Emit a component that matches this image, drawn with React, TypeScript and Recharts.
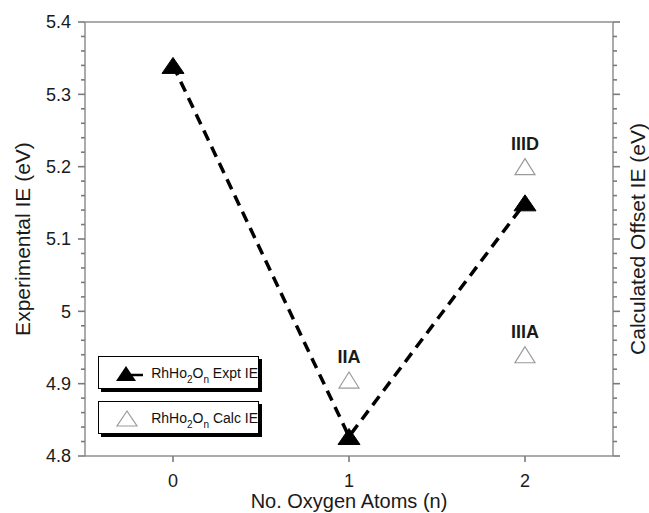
import React from 'react';
import {
  ComposedChart,
  Line,
  Scatter,
  XAxis,
  YAxis,
  Legend,
  ReferenceLine,
} from 'recharts';

// ---- data ----
const exptN = [0, 1, 2];
const exptIE = [5.34, 4.827, 5.15];

const calcN = [1, 2, 2];
const calcIE = [4.905, 5.2, 4.94];
const calcNames = ['IIA', 'IIID', 'IIIA'];

const xTicks = [0, 1, 2];
const yMajorTicks = [4.8, 4.9, 5.0, 5.1, 5.2, 5.3, 5.4];
const yMinorPerMajor = 5;

const exptData = exptN.map((n, i) => ({ n, ie: exptIE[i] }));
const calcData = calcN.map((n, i) => ({ n, ie: calcIE[i], name: calcNames[i] }));

const yAllTicks: number[] = [];
yMajorTicks.forEach((t, i) => {
  if (i < yMajorTicks.length - 1) {
    const step = (yMajorTicks[i + 1] - t) / yMinorPerMajor;
    for (let k = 0; k < yMinorPerMajor; k++) {
      yAllTicks.push(Math.round((t + k * step) * 1000) / 1000);
    }
  } else {
    yAllTicks.push(t);
  }
});

const isMajor = (v: number) => yMajorTicks.some((m) => Math.abs(m - v) < 1e-6);
const fmt = (v: number) => String(Number(v.toFixed(1)));

const AXIS = '#8f8f8f';
const TICK = '#7a7a7a';
const FONT = '"Liberation Sans", Arial, Helvetica, sans-serif';

const LeftTick = (props: any) => {
  const { x, y, payload } = props;
  const v = payload.value as number;
  const major = isMajor(v);
  return (
    <g>
      <path d={`M${x - (major ? 7 : 4)},${y}H${x}`} stroke={TICK} strokeWidth={1.6} fill="none" />
      {major && (
        <text x={x - 14} y={y} dy="0.36em" textAnchor="end" fontSize={18} fill="#1a1a1a" fontFamily={FONT}>
          {fmt(v)}
        </text>
      )}
    </g>
  );
};

const RightTick = (props: any) => {
  const { x, y, payload } = props;
  const v = payload.value as number;
  const major = isMajor(v);
  return (
    <g>
      <path d={`M${x},${y}H${x + (major ? 7 : 4)}`} stroke={TICK} strokeWidth={1.6} fill="none" />
    </g>
  );
};

const FilledTri = (props: any) => {
  const { cx, cy, index } = props;
  if (cx == null || cy == null) return <g key={`ft-${index}`} />;
  const w = 22;
  const h = 16;
  return (
    <polygon
      key={`ft-${index}`}
      points={`${cx},${cy - h / 2} ${cx + w / 2},${cy + h / 2} ${cx - w / 2},${cy + h / 2}`}
      fill="#000"
      stroke="#000"
      strokeWidth={1}
    />
  );
};

const OpenTriLabeled = (props: any) => {
  const { cx, cy, payload } = props;
  const w = 20;
  const h = 16;
  return (
    <g>
      <polygon
        points={`${cx},${cy - h / 2} ${cx + w / 2},${cy + h / 2} ${cx - w / 2},${cy + h / 2}`}
        fill="#fff"
        stroke="#9a9a9a"
        strokeWidth={1.2}
      />
      <text
        x={cx}
        y={cy - 17}
        textAnchor="middle"
        fontSize={18}
        fontWeight="bold"
        fill="#1a1a1a"
        fontFamily={FONT}
      >
        {payload.name}
      </text>
    </g>
  );
};

const Formula = ({ tail }: { tail: string }) => (
  <span style={{ fontSize: 14, whiteSpace: 'nowrap', color: '#111' }}>
    RhHo
    <sub style={{ fontSize: 10, verticalAlign: 'baseline', position: 'relative', top: 5 }}>2</sub>O
    <sub style={{ fontSize: 10, verticalAlign: 'baseline', position: 'relative', top: 5 }}>n</sub> {tail}
  </span>
);

const boxStyle: React.CSSProperties = {
  width: 159,
  height: 31,
  border: '1.5px solid #000',
  boxShadow: '3px 3px 0 #000',
  background: '#fff',
  display: 'flex',
  alignItems: 'center',
  boxSizing: 'content-box',
  fontFamily: FONT,
};

const renderLegend = () => (
  <div>
    <div style={boxStyle}>
      <svg width={50} height={20} style={{ marginLeft: 6 }}>
        <line x1={20} x2={38} y1={12} y2={12} stroke="#000" strokeWidth={2.5} />
        <polygon points="21,3 31,18 11,18" fill="#000" />
      </svg>
      <Formula tail="Expt IE" />
    </div>
    <div style={{ ...boxStyle, marginTop: 12 }}>
      <svg width={50} height={20} style={{ marginLeft: 6 }}>
        <polygon points="22,3 32,18 12,18" fill="#fff" stroke="#9a9a9a" strokeWidth={1.2} />
      </svg>
      <Formula tail="Calc IE" />
    </div>
  </div>
);

export default function App() {
  return (
    <div style={{ position: 'absolute', left: 0, top: 0, fontFamily: FONT }}>
      <ComposedChart
        width={649}
        height={513}
        margin={{ top: 22, right: 0, bottom: 0, left: 0 }}
        style={{ fontFamily: FONT }}
      >
        <XAxis
          dataKey="n"
          type="number"
          domain={[-0.5, 2.5]}
          ticks={xTicks}
          allowDuplicatedCategory={false}
          height={57}
          axisLine={{ stroke: AXIS, strokeWidth: 1.5 }}
          tickLine={{ stroke: TICK, strokeWidth: 1.6 }}
          tickSize={6}
          tickMargin={12}
          tick={{ fontSize: 18, fill: '#1a1a1a' }}
          label={{
            value: 'No. Oxygen Atoms (n)',
            position: 'insideBottom',
            offset: 5,
            fontSize: 20,
            fill: '#1a1a1a',
          }}
        />
        <YAxis
          yAxisId="left"
          type="number"
          domain={[4.8, 5.4]}
          ticks={yAllTicks}
          interval={0}
          width={85}
          axisLine={{ stroke: AXIS, strokeWidth: 1.5 }}
          tickLine={false}
          tickSize={0}
          tickMargin={0}
          tick={<LeftTick />}
          allowDataOverflow
          label={{
            value: 'Experimental IE (eV)',
            angle: -90,
            position: 'insideLeft',
            offset: 23,
            fontSize: 21,
            fill: '#1a1a1a',
            style: { textAnchor: 'middle' },
          }}
        />
        <YAxis
          yAxisId="right"
          orientation="right"
          type="number"
          domain={[4.8, 5.4]}
          ticks={yAllTicks}
          interval={0}
          width={36}
          axisLine={{ stroke: AXIS, strokeWidth: 1.5 }}
          tickLine={false}
          tickSize={0}
          tickMargin={0}
          tick={<RightTick />}
          allowDataOverflow
          label={{
            value: 'Calculated Offset IE (eV)',
            angle: -90,
            position: 'insideRight',
            offset: 11,
            fontSize: 21,
            fill: '#1a1a1a',
            style: { textAnchor: 'middle' },
          }}
        />
        <ReferenceLine yAxisId="left" y={5.4} stroke={AXIS} strokeWidth={1.5} />
        <Scatter
          yAxisId="left"
          data={calcData}
          dataKey="ie"
          shape={<OpenTriLabeled />}
          isAnimationActive={false}
          legendType="none"
        />
        <Line
          yAxisId="left"
          data={exptData}
          dataKey="ie"
          type="linear"
          stroke="#000"
          strokeWidth={3.5}
          strokeDasharray="11 7"
          dot={FilledTri}
          activeDot={false}
          isAnimationActive={false}
          legendType="none"
        />
        <Legend
          layout="vertical"
          align="center"
          verticalAlign="middle"
          content={renderLegend}
          wrapperStyle={{ left: 98, top: 356, width: 170, height: 90 }}
        />
      </ComposedChart>
    </div>
  );
}
